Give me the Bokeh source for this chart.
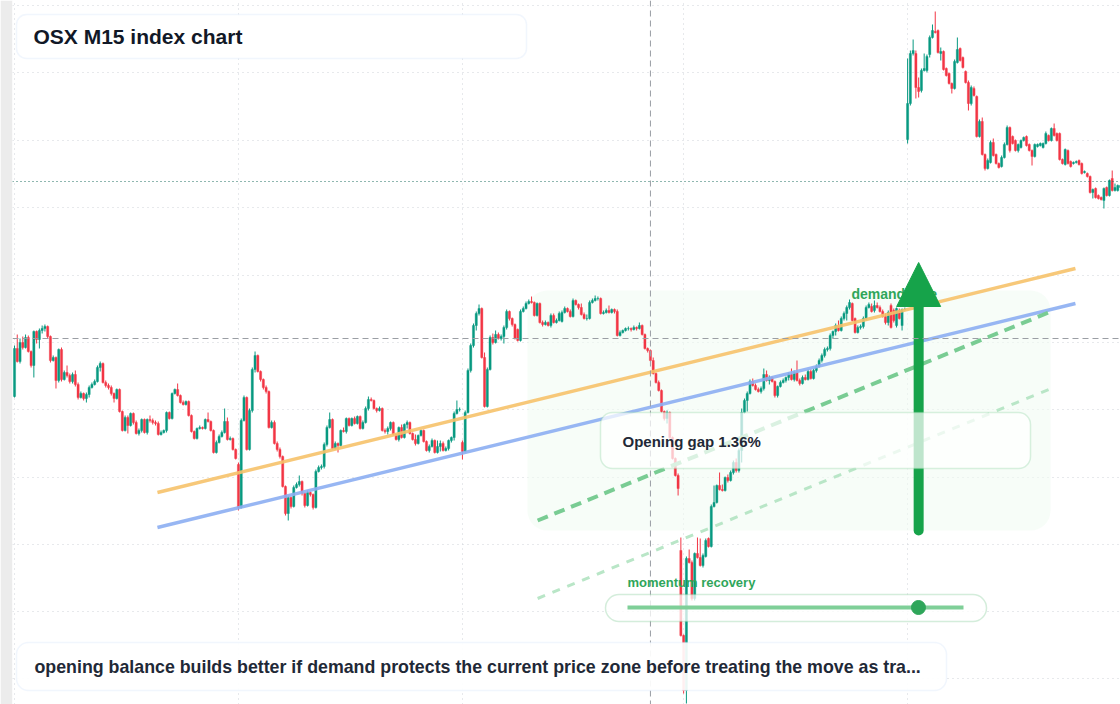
from bokeh.plotting import figure
from bokeh.models import (Range1d, Span, BoxAnnotation, Label, Arrow, NormalHead,
                          Grid, FixedTicker, ColumnDataSource)
from bokeh.embed import file_html
from bokeh.resources import INLINE

# ---------------- OHLC data (M15 bars, index points) ----------------
opens = [
 604,652,639,658,653,663,649,635,669,661,670,672,674,664,640,643,620,651,621,628,625,619,626,616,603,607,602,606,613,616,619,633,637,618,615,613,607,602,611,589,570,583,575,587,578,567,570,581,568,581,580,578,577,566,568,570,588,582,607,611,605,598,596,599,585,569,
 562,572,573,572,581,579,570,548,558,564,568,579,561,562,551,536,493,580,603,551,590,631,645,629,621,613,609,573,578,557,551,544,514,487,503,494,513,516,519,507,495,508,506,493,529,533,534,556,573,581,552,557,555,570,569,582,575,582,577,584,572,578,592,601,600,592,
 590,592,570,569,572,578,566,561,573,563,576,578,567,561,557,565,570,559,550,554,560,548,554,557,550,552,560,563,587,591,558,549,588,630,655,675,687,692,643,594,631,663,658,666,662,664,673,689,682,676,671,660,689,692,697,699,698,685,697,678,676,678,675,685,678,680,
 679,688,692,689,684,700,696,693,686,682,682,698,700,702,702,687,688,690,688,691,689,665,668,670,672,672,671,673,672,675,666,652,650,640,627,618,610,589,582,588,563,542,525,
 450,365,310,442,438,402,447,443,435,444,462,454,494,498,515,511,510,523,520,
 528,538,530,550,588,600,607,619,615,611,609,612,626,620,623,619,605,614,618,620,623,626,621,628,620,617,623,621,629,622,630,634,640,645,651,652,665,669,675,670,682,687,693,697,682,668,673,674,682,693,694,690,695,693,689,684,678,695,690,675,690,675,691,
 861,897,947,947,913,910,930,930,946,963,969,970,947,949,932,927,917,912,938,952,943,929,918,897,912,904,864,879,846,832,838,858,846,837,834,843,856,873,864,860,850,853,860,864,856,850,844,854,855,853,857,865,860,872,867,867,841,836,850,839,837,838,840,837,828,827,824,808,812,805,803,800,813,805,822,810,810,813,
]
closes = [
 652,639,658,653,663,649,635,669,661,670,672,674,664,640,643,620,651,621,628,625,619,626,616,603,607,602,606,613,616,619,633,637,618,615,613,607,602,611,589,570,583,575,587,578,567,570,581,568,581,580,578,577,566,568,570,588,582,607,611,605,598,596,599,585,569,562,
 572,573,572,581,579,570,548,558,564,568,579,561,562,551,542,493,580,603,551,590,631,645,629,621,613,609,573,578,557,551,544,514,487,503,494,513,516,519,507,495,508,506,493,529,533,534,556,573,581,552,557,555,570,569,582,575,582,577,584,572,578,592,601,600,592,590,
 592,570,569,572,578,566,561,573,563,576,578,567,561,557,565,570,559,550,554,560,548,554,557,550,552,560,563,587,591,591,549,588,630,655,675,687,692,643,594,631,663,658,666,662,664,673,689,682,676,662,660,689,692,697,699,698,685,697,678,676,678,675,685,678,680,687,
 688,692,689,684,700,696,693,686,682,682,698,700,702,702,687,688,690,688,691,689,665,668,670,672,672,671,673,672,675,666,652,650,640,627,618,610,589,582,588,563,542,525,512,
 365,310,442,438,402,447,443,435,445,460,454,494,498,515,511,510,523,520,528,
 538,530,550,588,600,607,619,615,611,609,612,626,620,623,619,605,614,618,620,623,626,621,628,620,617,623,621,629,622,630,634,640,645,651,652,665,669,675,670,682,687,693,698,680,668,673,674,682,693,696,689,695,693,689,684,678,688,673,680,692,682,691,691,
 897,947,950,913,909,930,932,944,963,970,968,948,949,931,925,917,912,939,951,940,933,918,897,913,905,864,879,846,832,840,858,845,837,833,843,856,873,850,857,850,856,860,863,855,850,844,856,856,857,857,867,860,872,865,860,841,837,851,837,834,838,839,836,827,829,824,808,811,803,802,801,812,805,820,810,813,815,815,
]
highs = [
 655,666,662,664,666,665,650,670,670,672,675,676,675,665,645,644,652,653,630,635,627,628,630,618,609,608,608,615,618,621,635,639,638,620,617,615,608,612,612,590,585,585,588,588,580,572,582,582,582,585,582,580,579,570,571,589,589,608,612,617,606,600,600,600,586,570,
 573,575,574,582,588,580,571,560,566,570,592,583,564,563,552,538,582,605,604,592,633,649,646,630,622,615,610,580,580,559,553,545,515,505,504,515,518,525,520,508,510,509,507,531,535,536,558,575,588,582,559,558,571,573,583,583,583,584,585,585,580,594,604,603,601,593,
 594,593,572,574,579,579,567,574,576,577,580,579,568,566,566,571,571,560,556,562,561,560,560,559,554,561,564,589,600,593,560,590,632,657,677,689,696,693,648,633,665,667,670,668,666,675,691,690,683,677,672,691,694,699,701,704,699,698,698,680,680,679,687,687,682,689,
 690,694,693,691,702,701,697,697,688,686,700,702,705,704,703,690,692,695,692,692,691,670,671,673,674,673,675,674,678,676,667,653,651,643,628,620,611,590,590,589,564,543,527,
 463,366,444,451,440,448,463,462,447,462,463,496,515,516,528,516,524,526,530,
 540,542,552,592,602,609,621,622,617,613,614,632,630,625,624,620,615,620,622,624,628,632,630,640,622,625,626,631,631,632,636,642,647,653,654,667,670,677,680,684,689,695,701,698,683,675,676,684,695,698,697,700,698,695,691,687,690,697,692,693,692,692,693,
 942,950,961,950,923,932,947,946,965,976,989,971,953,950,933,928,918,941,963,953,944,930,920,915,914,905,881,883,847,842,860,862,847,838,845,858,875,874,865,861,857,861,864,865,857,851,857,857,858,858,869,866,873,877,868,868,842,852,851,840,839,840,841,838,830,828,825,812,813,806,804,813,814,821,830,817,816,822,
]
lows = [
 603,638,637,651,652,648,633,623,657,652,667,669,662,638,639,612,618,619,620,623,617,617,614,601,602,600,598,603,612,615,618,629,617,613,611,605,598,601,588,569,569,567,574,576,566,565,568,567,566,578,576,575,565,565,567,568,581,581,606,604,597,595,595,584,568,561,
 561,571,571,571,578,569,547,547,557,563,567,560,560,550,541,490,492,579,550,550,588,628,628,619,611,607,572,572,556,549,542,513,485,480,492,493,512,514,505,493,494,504,491,492,528,531,532,554,572,551,551,548,554,568,567,574,574,576,576,571,571,577,590,599,591,588,
 589,569,567,566,570,565,560,559,562,562,572,566,560,555,556,564,558,549,548,553,547,547,549,549,549,550,558,560,586,589,541,548,587,628,653,670,685,642,593,593,630,656,657,661,660,657,671,680,674,661,659,659,688,691,696,697,684,684,677,674,675,674,673,677,677,679,
 678,687,688,683,683,695,691,685,681,680,681,697,699,700,686,686,687,687,687,687,664,664,667,669,670,669,670,670,671,665,651,648,639,626,617,609,588,580,577,562,541,524,505,
 364,307,297,437,400,400,442,434,433,443,453,453,493,497,510,509,509,518,519,
 526,528,528,538,587,589,606,614,610,608,607,610,619,616,618,603,603,613,617,618,620,620,619,619,615,616,620,620,621,621,628,633,638,643,649,650,662,665,669,669,680,680,691,679,667,667,671,672,680,692,688,688,692,688,683,676,675,672,678,673,681,670,690,
 857,895,945,902,903,908,929,928,943,962,967,947,940,930,924,916,907,911,937,939,932,917,890,895,904,863,863,845,830,831,837,844,836,832,833,842,855,848,856,849,848,852,859,854,849,835,843,853,854,852,856,859,859,864,859,840,836,835,836,833,836,837,835,826,827,823,807,802,802,801,800,792,804,804,809,809,809,812,
]
bars = list(range(len(closes)))

# grid / reference levels
time_ticks = [0, 81, 162, 242, 323]
price_ticks = [322, 389, 456, 523, 591, 658, 725, 793, 860, 928, 995]
last_price = 819
cross_bar = 230
cross_price = 662

# drawings anchored to (bar, price)
orange_bars, orange_prices = [51.7, 383.7], [508, 732]
blue_bars, blue_prices = [51.7, 383.7], [473, 697]
support_bars, support_prices = [189.2, 374.0], [480, 688]
lower_bars, lower_prices = [189.2, 374.0], [402, 611]
zone_bars, zone_prices = [185.5, 374.7], [470, 710]
arrow_bar, arrow_prices = 327, [470, 738]
momentum_score = 0.866

title_text = "OSX M15 index chart"
note_text = "opening balance builds better if demand protects the current price zone before treating the move as tra..."
gap_text = "Opening gap 1.36%"

UP, DOWN = "#089981", "#f23645"
FONT = "Liberation Sans"
ARROW_GREEN = "#16a34a"

# screen-pixel -> data helpers for overlay placement
PX0, PXB = 14.0, 2.765
def bx(px):
    return (px - PX0) / PXB
def pv(py):
    return 1000.0 - py

p = figure(width=1120, height=704, x_range=Range1d(bx(12), bx(1120)), y_range=Range1d(296, 1000),
           output_backend="svg", toolbar_location=None, x_axis_location=None, y_axis_location=None,
           title=None, min_border_left=12, min_border_right=0, min_border_top=0, min_border_bottom=0,
           border_fill_color="#ececec", background_fill_color="#ffffff", outline_line_color=None)
p.grid.visible = False

p.add_layout(Grid(dimension=0, ticker=FixedTicker(ticks=time_ticks), grid_line_color="#cfd3d8",
                  grid_line_dash="1 4", grid_line_width=1))
p.add_layout(Grid(dimension=1, ticker=FixedTicker(ticks=price_ticks), grid_line_color="#cfd3d8",
                  grid_line_dash="1 4", grid_line_width=1))

# demand zone (under candles)
p.add_layout(BoxAnnotation(left=zone_bars[0], right=zone_bars[1], bottom=zone_prices[0], top=zone_prices[1],
                           fill_color="#f1fbf4", fill_alpha=0.6, line_color=None, border_radius=20,
                           level="underlay"))

colors = [UP if c >= o else DOWN for o, c in zip(opens, closes)]
src = ColumnDataSource(dict(x=bars, o=opens, c=closes, h=highs, l=lows, color=colors))
p.segment(x0="x", y0="l", x1="x", y1="h", color="color", line_width=1, source=src)
p.vbar(x="x", width=0.78, top="o", bottom="c", fill_color="color", line_color="color",
       line_width=0.4, source=src)

# reference lines
p.add_layout(Span(location=last_price, dimension="width", line_color="#1f6f60", line_dash="1 3", line_width=1.2))
p.add_layout(Span(location=cross_price, dimension="width", line_color="#9a9ea4", line_dash="6 4", line_width=1))
p.add_layout(Span(location=cross_bar, dimension="height", line_color="#9a9ea4", line_dash="6 4", line_width=1))

# trend lines
p.line(orange_bars, orange_prices, line_color="#f6c26a", line_width=3.5, line_alpha=0.9)
p.line(blue_bars, blue_prices, line_color="#8caef2", line_width=3.5, line_alpha=0.9)
p.line(support_bars, support_prices, line_color="#79cc93", line_width=4, line_dash="11 7")
p.line(lower_bars, lower_prices, line_color="#b9e6c7", line_width=3, line_dash="8 8")

# demand label + arrow (shaft as a round-capped stroke, head as annotation)
p.add_layout(Label(x=bx(851), y=pv(293), text="demand side", text_font=FONT, text_font_style="bold",
                   text_font_size="14px", text_color="#2fa65a", text_baseline="middle"))
p.segment(x0=[arrow_bar], y0=[arrow_prices[0]], x1=[arrow_bar], y1=[arrow_prices[1] - 36],
          line_color=ARROW_GREEN, line_width=10, line_cap="round")
p.add_layout(Arrow(end=NormalHead(size=44, fill_color=ARROW_GREEN, line_color=ARROW_GREEN, line_width=1),
                   x_start=arrow_bar, y_start=arrow_prices[1] - 40, x_end=arrow_bar, y_end=arrow_prices[1],
                   line_color=ARROW_GREEN, line_width=10, line_cap="butt"))

# opening gap card
p.add_layout(BoxAnnotation(left=bx(600), right=bx(1030), top=pv(412), bottom=pv(468),
                           fill_color="#ffffff", fill_alpha=0.72, line_color="#86cf9c", line_width=1.5,
                           border_radius=12))
p.add_layout(Label(x=bx(622), y=pv(441), text=gap_text, text_font=FONT, text_font_style="bold",
                   text_font_size="15px", text_color="#1f2937", text_baseline="middle"))

# momentum slider
p.add_layout(Label(x=bx(627), y=pv(582), text="momentum recovery", text_font=FONT, text_font_style="bold",
                   text_font_size="13px", text_color="#2fa65a", text_baseline="middle"))
p.add_layout(BoxAnnotation(left=bx(605), right=bx(986), top=pv(594), bottom=pv(621),
                           fill_color="#ffffff", fill_alpha=0.75, line_color="#6fc488", line_width=1.5,
                           border_radius=14))
s_left, s_right = bx(627), bx(963)
r1 = p.segment(x0=[s_left], y0=[pv(607)], x1=[s_right], y1=[pv(607)], line_color="#7fcf98", line_width=4)
r1.level = "overlay"
r2 = p.scatter(x=[s_left + momentum_score * (s_right - s_left)], y=[pv(607)], size=14,
               fill_color="#2fa65a", line_color="#2fa65a")
r2.level = "overlay"

# title card
p.add_layout(BoxAnnotation(left=bx(16), right=bx(526), top=pv(14), bottom=pv(58),
                           fill_color="#ffffff", fill_alpha=1.0, line_color="#d2e2f7", line_width=1.5,
                           border_radius=10))
p.add_layout(Label(x=bx(33), y=pv(36), text=title_text, text_font=FONT, text_font_style="bold",
                   text_font_size="21px", text_color="#111827", text_baseline="middle"))

# note card
p.add_layout(BoxAnnotation(left=bx(16), right=bx(946), top=pv(642), bottom=pv(690),
                           fill_color="#ffffff", fill_alpha=0.92, line_color="#d2e2f7", line_width=1.5,
                           border_radius=12))
p.add_layout(Label(x=bx(34), y=pv(666), text=note_text, text_font=FONT, text_font_style="bold",
                   text_font_size="17.8px", text_color="#1f2937", text_baseline="middle"))

open("out.html", "w").write(file_html(p, INLINE))
